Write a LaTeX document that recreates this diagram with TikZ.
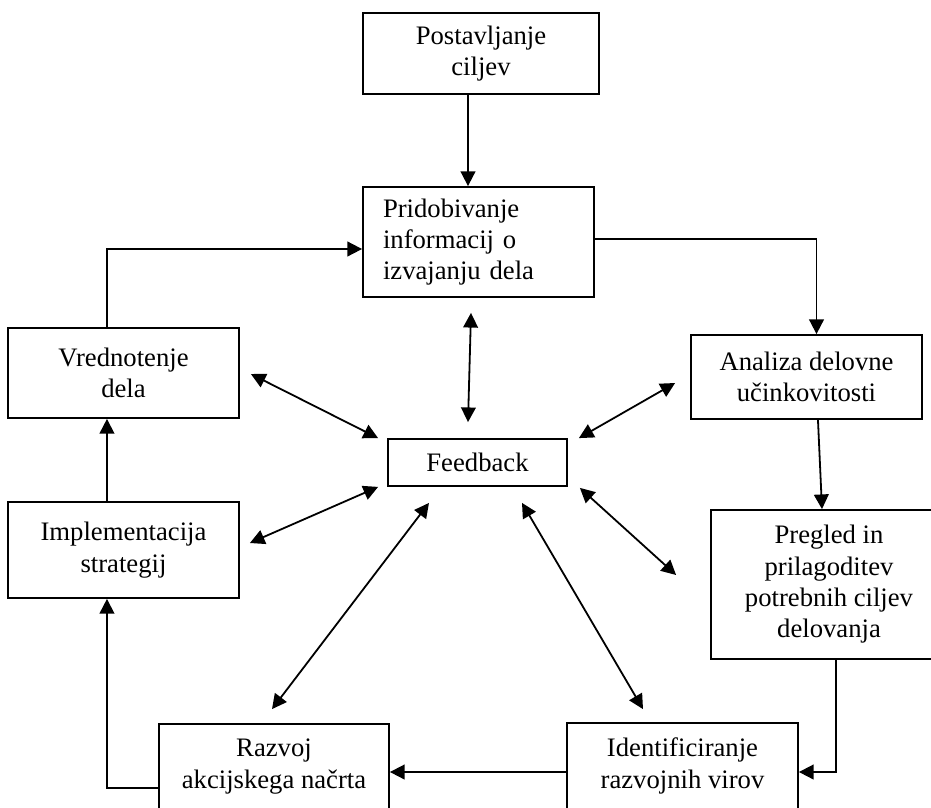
\documentclass[tikz,border=0pt]{standalone}
\usepackage{fontspec}
\setmainfont{Liberation Serif}
\usetikzlibrary{arrows.meta}
\begin{document}
\begin{tikzpicture}[x=0.75pt,y=-0.75pt,
  box/.style={draw, line width=1.35pt, inner sep=0pt, align=center,
    font=\fontsize{20}{23.5}\selectfont},
  arr/.style={line width=1.35pt, -{Triangle[length=11pt,width=11pt]}},
  darr/.style={line width=1.35pt, {Triangle[length=11pt,width=11pt]}-{Triangle[length=11pt,width=11pt]}}]
\useasboundingbox (0,0) rectangle (931,807);
\clip (0,0) rectangle (931,807);
\fill[white] (0,0) rectangle (931,807);

\node[box, minimum width=177pt, minimum height=60.75pt] (cilj) at (481,53.5) {Postavljanje\\ciljev};
\node[box, text width=143.25pt, align=left, inner xsep=15pt, minimum height=82.5pt] (prid) at (478.5,242) {Pridobivanje\\informacij o\\izvajanju dela};
\node[box, minimum width=173.25pt, minimum height=67.5pt] (vred) at (123.5,373) {Vrednotenje\\dela};
\node[box, minimum width=173.25pt, minimum height=72pt] (impl) at (123.5,550) {Implementacija\\strategij};
\node[box, minimum width=173.25pt, minimum height=63pt] (anal) at (806.5,377) {Analiza delovne\\učinkovitosti};
\node[box, minimum width=134.25pt, minimum height=35.25pt] (feed) at (477.5,462.5) {Feedback};
\node[box, minimum width=177pt, minimum height=111.75pt] (preg) at (829,584.5) {Pregled in\\prilagoditev\\potrebnih ciljev\\delovanja};
\node[box, minimum width=173.25pt, minimum height=64.5pt] (iden) at (682.5,766) {Identificiranje\\razvojnih virov};
\node[box, minimum width=172.5pt, minimum height=63.75pt] (razv) at (274,766.5) {Razvoj\\akcijskega načrta};

% main cycle
\draw[arr] ([xshift=-9.75pt]cilj.south) -- ([xshift=-9.75pt]cilj.south |- prid.north);
\draw[arr] ([yshift=2.25pt]prid.east) -| ([xshift=7.5pt]anal.north);
\draw[arr] ([xshift=8.6pt]anal.south) -- ([xshift=-5.25pt]preg.north);
\draw[arr] ([xshift=5.25pt]preg.south) |- ([yshift=-4.5pt]iden.east);
\draw[arr] ([yshift=-4.5pt]iden.west) -- ([yshift=-4.5pt]iden.west -| razv.east);
\draw[arr] ([yshift=-16.1pt]razv.west) -| ([xshift=-12.4pt]impl.south);
\draw[arr] ([xshift=-12.4pt]impl.north) -- ([xshift=-12.4pt]vred.south);
\draw[arr] ([xshift=-12.4pt]vred.north) |- ([yshift=-5.25pt]prid.west);

% feedback links
\coordinate (p1) at ([shift={(-7.5,15)}]prid.south);
\coordinate (f1) at ([shift={(-9.5,-16)}]feed.north);
\draw[darr] (p1) -- (f1);
\coordinate (v1) at ([shift={(11,1)}]vred.east);
\coordinate (f2) at ([shift={(-9,0)}]feed.north west);
\draw[darr] (v1) -- (f2);
\coordinate (i1) at ([shift={(10,-7)}]impl.east);
\coordinate (f3) at ([shift={(-9,0)}]feed.south west);
\draw[darr] (i1) -- (f3);
\coordinate (a1) at ([shift={(-15,6)}]anal.west);
\coordinate (f4) at ([shift={(11,0)}]feed.north east);
\draw[darr] (a1) -- (f4);
\coordinate (g1) at ([shift={(-34,-9.5)}]preg.west);
\coordinate (f5) at ([shift={(12,1)}]feed.south east);
\draw[darr] (g1) -- (f5);
\coordinate (r1) at ([shift={(-2,-14)}]razv.north);
\coordinate (f6) at ([shift={(-48.5,16)}]feed.south);
\draw[darr] (r1) -- (f6);
\coordinate (d1) at ([shift={(-39.5,-13)}]iden.north);
\coordinate (f7) at ([shift={(44.5,16)}]feed.south);
\draw[darr] (d1) -- (f7);
\end{tikzpicture}
\end{document}
